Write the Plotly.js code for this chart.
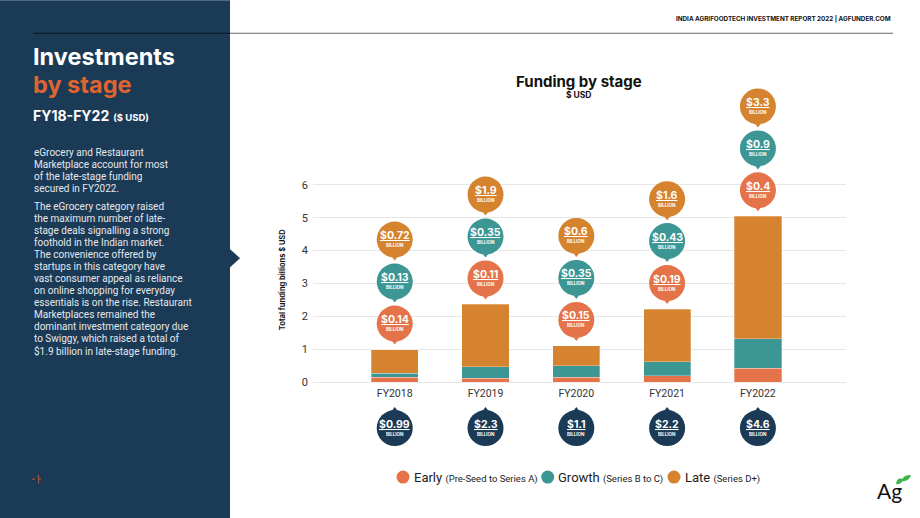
<!DOCTYPE html>
<html><head><meta charset="utf-8">
<script src="https://cdn.plot.ly/plotly-3.0.1.min.js"></script>
<style>html,body{margin:0;padding:0;background:#fff;}#chart{width:920px;height:518px;}</style>
</head><body><div id="chart"></div>
<script>
// ---- data ----
const years = ['FY2018', 'FY2019', 'FY2020', 'FY2021', 'FY2022'];
const early = [0.14, 0.11, 0.15, 0.19, 0.42];
const growth = [0.13, 0.35, 0.35, 0.43, 0.9];
const late = [0.72, 1.9, 0.6, 1.6, 3.72];
const earlyLabels = ['$0.14', '$0.11', '$0.15', '$0.19', '$0.4'];
const growthLabels = ['$0.13', '$0.35', '$0.35', '$0.43', '$0.9'];
const lateLabels = ['$0.72', '$1.9', '$0.6', '$1.6', '$3.3'];
const totalLabels = ['$0.99', '$2.3', '$1.1', '$2.2', '$4.6'];
const yTicks = [0, 1, 2, 3, 4, 5, 6];
const legendNames = ['Early', 'Growth', 'Late'];
const legendNotes = ['(Pre-Seed to Series A)', '(Series B to C)', '(Series D+)'];
const para1 = ['eGrocery and Restaurant', 'Marketplace account for most', 'of the late-stage funding', 'secured in FY2022.'];
const para2 = ['The eGrocery category raised', 'the maximum number of late-', 'stage deals signalling a strong', 'foothold in the Indian market.', 'The convenience offered by', 'startups in this category have', 'vast consumer appeal as reliance', 'on online shopping for everyday', 'essentials is on the rise. Restaurant', 'Marketplaces remained the', 'dominant investment category due', 'to Swiggy, which raised a total of', '$1.9 billion in late-stage funding.'];

// ---- style / geometry ----
const C_EARLY = '#e5734a', C_GROWTH = '#3c9694', C_LATE = '#d5832f', NAVY = '#1b3a55';
const L = 313, R = 846, Y0PIX = 382, PPU = 32.9, YMIN = -1.7, YMAX = 8.7;
const TOP = Y0PIX - YMAX * PPU, BOT = Y0PIX - YMIN * PPU;
const px = x => (x - L) / (R - L);
const py = y => (BOT - y) / (BOT - TOP);

const tops = years.map((_, i) => early[i] + growth[i] + late[i]);
const yEarlyB = tops.map(t => t + 26 / PPU);
const yGrowthB = tops.map(t => t + 68 / PPU);
const yLateB = tops.map(t => t + 110 / PPU);
const yTotalB = years.map(() => -46 / PPU);

const barLine = {color: 'rgba(255,255,255,0.5)', width: 0.6};
const traces = [
  {type: 'bar', x: years, y: early, name: 'Early', marker: {color: C_EARLY, line: barLine}, width: 0.52, showlegend: false, hoverinfo: 'skip'},
  {type: 'bar', x: years, y: growth, name: 'Growth', marker: {color: C_GROWTH, line: barLine}, width: 0.52, showlegend: false, hoverinfo: 'skip'},
  {type: 'bar', x: years, y: late, name: 'Late', marker: {color: C_LATE, line: barLine}, width: 0.52, showlegend: false, hoverinfo: 'skip'}
];
function pointer(ys, col, dir) {
  return {type: 'scatter', mode: 'markers', x: years, y: ys.map(v => v + (dir === 'down' ? -18.5 : 18.5) / PPU),
    marker: {symbol: 'triangle-' + dir, size: 5, color: col}, cliponaxis: false, showlegend: false, hoverinfo: 'skip'};
}
function bubble(ys, col) {
  return {type: 'scatter', mode: 'markers', x: years, y: ys,
    marker: {symbol: 'circle', size: 36, color: col}, cliponaxis: false, showlegend: false, hoverinfo: 'skip'};
}
traces.push(pointer(yEarlyB, C_EARLY, 'down'), pointer(yGrowthB, C_GROWTH, 'down'), pointer(yLateB, C_LATE, 'down'), pointer(yTotalB, NAVY, 'up'));
traces.push(bubble(yEarlyB, C_EARLY), bubble(yGrowthB, C_GROWTH), bubble(yLateB, C_LATE), bubble(yTotalB, NAVY));

const ann = [];
function bubbleText(ys, labels) {
  years.forEach((yr, i) => {
    ann.push({x: yr, y: ys[i], xref: 'x', yref: 'y', showarrow: false, text: '<b><u>' + labels[i] + '</u></b>',
      font: {family: 'Inter, Roboto, sans-serif', size: 10.5, color: '#fff'}, yshift: 4});
    ann.push({x: yr, y: ys[i], xref: 'x', yref: 'y', showarrow: false, text: '<b>BILLION</b>',
      font: {family: 'Inter, Roboto, sans-serif', size: 4.5, color: '#fff'}, yshift: -6});
  });
}
bubbleText(yEarlyB, earlyLabels);
bubbleText(yGrowthB, growthLabels);
bubbleText(yLateB, lateLabels);
bubbleText(yTotalB, totalLabels);

function pa(xp, yp, text, size, color, opts) {
  ann.push(Object.assign({xref: 'paper', yref: 'paper', x: px(xp), y: py(yp), text: text, showarrow: false,
    xanchor: 'left', yanchor: 'middle', font: {family: 'Roboto, sans-serif', size: size, color: color}}, opts || {}));
}
// left panel
pa(31, 56, '<b>Investments</b>', 23.5, '#fff', {font: {family: 'Inter, sans-serif', size: 23.5, color: '#fff'}});
pa(31, 84, '<b>by stage</b>', 23.5, '#e0642f', {font: {family: 'Inter, sans-serif', size: 23.5, color: '#e0642f'}});
pa(31, 115, "<b>FY18-FY22</b> <span style='font-size:9.5px'><b>($ USD)</b></span>", 14, '#fff', {font: {family: 'Inter, sans-serif', size: 14, color: '#fff'}});
const p1y = [152.5, 164.5, 176.3, 188];
para1.forEach((t, i) => pa(32, p1y[i], t, 10, '#e4e8ee'));
para2.forEach((t, i) => pa(32, 206.7 + i * 12.0, t, 10, '#e4e8ee'));
// header
pa(893, 19, '<b>INDIA AGRIFOODTECH INVESTMENT REPORT 2022 | AGFUNDER.COM</b>', 6.3, '#111', {xanchor: 'right', font: {family: 'Inter, sans-serif', size: 6.3, color: '#111'}});
// chart titles
pa(579, 81, '<b>Funding by stage</b>', 15, '#111', {xanchor: 'center', font: {family: 'Inter, sans-serif', size: 15, color: '#111'}});
pa(579, 95, '<b>$ USD</b>', 8.5, '#111', {xanchor: 'center', font: {family: 'Inter, sans-serif', size: 8.5, color: '#111'}});
pa(282, 280, '<b>Total funding billions $ USD</b>', 7.5, '#111', {xanchor: 'center', textangle: -90, font: {family: 'Inter, sans-serif', size: 7.5, color: '#111'}});
// legend (manual)
const legX = [403, 547.7, 674];
const legCol = [C_EARLY, C_GROWTH, C_LATE];
legendNames.forEach((n, i) => pa(legX[i] + 8.5, 477, n + " <span style='font-size:9.5px'>" + legendNotes[i] + '</span>', 13, '#222'));
// logo text
pa(889, 490, 'Ag', 21, '#111', {xanchor: 'center', font: {family: 'Lato, sans-serif', size: 21, color: '#111'}});

const shapes = [
  {type: 'rect', xref: 'paper', yref: 'paper', x0: px(0), x1: px(230), y0: py(518), y1: py(0), fillcolor: NAVY, line: {width: 0}, layer: 'below'},
  {type: 'path', xref: 'paper', yref: 'paper', path: `M ${px(229)} ${py(248)} L ${px(240)} ${py(258)} L ${px(229)} ${py(268)} Z`, fillcolor: NAVY, line: {width: 0}, layer: 'below'},
  {type: 'line', xref: 'paper', yref: 'paper', x0: px(33), x1: px(230), y0: py(33), y1: py(33), line: {color: '#0d1620', width: 1}},
  {type: 'line', xref: 'paper', yref: 'paper', x0: px(230), x1: px(893), y0: py(33), y1: py(33), line: {color: '#666', width: 1}},
  {type: 'line', xref: 'paper', yref: 'paper', x0: px(32), x1: px(43), y0: py(479), y1: py(479), line: {color: '#9a5238', width: 1.3, dash: 'dot'}},
  {type: 'line', xref: 'paper', yref: 'paper', x0: px(38.5), x1: px(38.5), y0: py(474.5), y1: py(483.5), line: {color: '#9a5238', width: 1.3}},
  {type: 'path', xref: 'paper', yref: 'paper', path: `M ${px(896)} ${py(484)} Q ${px(897)} ${py(477)} ${px(903)} ${py(479)} Q ${px(902)} ${py(485)} ${px(896)} ${py(484)} Z`, fillcolor: '#3bb54a', line: {width: 0}},
  {type: 'path', xref: 'paper', yref: 'paper', path: `M ${px(901)} ${py(481)} Q ${px(904)} ${py(474)} ${px(911)} ${py(475)} Q ${px(909)} ${py(482)} ${px(901)} ${py(481)} Z`, fillcolor: '#3bb54a', line: {width: 0}}
];
legX.forEach((x, i) => shapes.push({type: 'circle', xref: 'paper', yref: 'paper', x0: px(x - 6.5), x1: px(x + 6.5), y0: py(483.5), y1: py(470.5), fillcolor: legCol[i], line: {width: 0}}));

const layout = {
  width: 920, height: 518,
  margin: {l: L, r: 920 - R, t: TOP, b: 518 - BOT, pad: 0},
  paper_bgcolor: '#fff', plot_bgcolor: 'rgba(0,0,0,0)',
  barmode: 'stack',
  font: {family: 'Roboto, sans-serif', color: '#333'},
  xaxis: {type: 'category', range: [-0.9, 4.97], showgrid: false, zeroline: false, showline: false, ticks: '',
    anchor: 'free', position: py(Y0PIX), tickfont: {size: 10.5, color: '#333'}, ticklabelstandoff: 3, fixedrange: true},
  yaxis: {range: [YMIN, YMAX], tickvals: yTicks, showgrid: true, gridcolor: '#e6e6e6', gridwidth: 1, zeroline: false,
    showline: false, ticks: '', tickfont: {size: 11, color: '#333'}, ticklabelstandoff: 4, fixedrange: true},
  annotations: ann,
  shapes: shapes,
  showlegend: false
};
Plotly.newPlot('chart', traces, layout, {displayModeBar: false, staticPlot: true});
</script></body></html>
